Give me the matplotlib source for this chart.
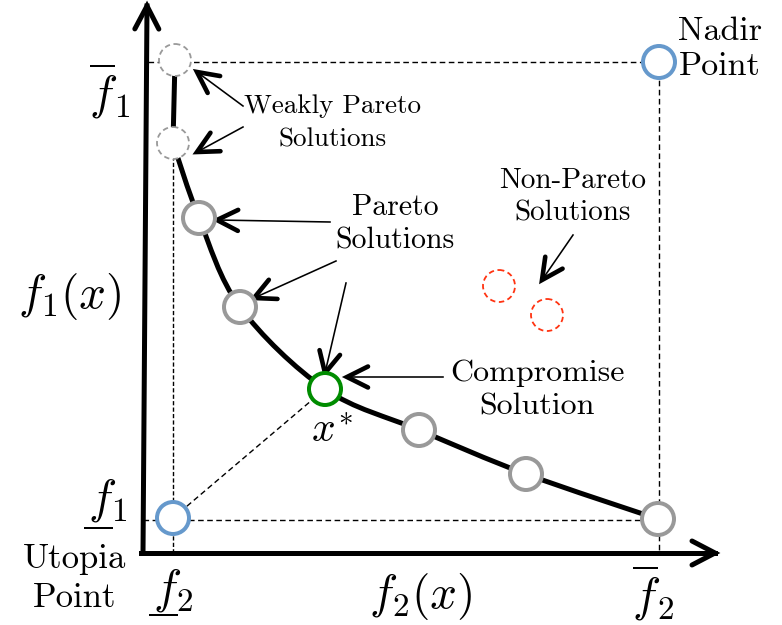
import numpy as np
import matplotlib
matplotlib.use("Agg")
import matplotlib.pyplot as plt
from matplotlib.patches import Circle, PathPatch
from matplotlib.path import Path
from matplotlib.lines import Line2D

plt.rcParams["mathtext.fontset"] = "cm"
TXT = "cmr10"

# Objective-space positions (canvas units, f1 grows upward on screen = smaller y)
weak_f2 = [175, 173]
weak_f1 = [60, 143]
pareto_f2 = [199, 240, 419, 526, 658]
pareto_f1 = [218, 307, 430, 474, 519]
compromise = (325, 389)
utopia = (173, 518)
nadir = (659, 62)
non_pareto_f2 = [499, 547]
non_pareto_f1 = [286, 315]

W, H = 782, 625
fig = plt.figure(figsize=(W / 100, H / 100), dpi=100)
ax = fig.add_axes([0, 0, 1, 1])
ax.set_xlim(0, W)
ax.set_ylim(H, 0)
ax.set_aspect("equal")
ax.axis("off")

PX = 0.72  # points per pixel


def chevron(tip, tail, length, half, lw, z=6):
    tip = np.asarray(tip, float)
    tail = np.asarray(tail, float)
    d = tip - tail
    d /= np.hypot(*d)
    n = np.array([-d[1], d[0]])
    a1 = tip - length * d + half * n
    a2 = tip - length * d - half * n
    ax.add_line(Line2D([a1[0], tip[0], a2[0]], [a1[1], tip[1], a2[1]],
                       color="black", lw=lw, solid_capstyle="round",
                       solid_joinstyle="miter", zorder=z))


def arrow(tail, tip):
    ax.add_line(Line2D([tail[0], tip[0]], [tail[1], tip[1]], color="black",
                       lw=1.6 * PX, zorder=5))
    chevron(tip, tail, 21, 10.5, 4.6 * PX)


# axes of the objective space
origin = (143, 553)
ytop = (147, 6)
xend = (715, 553)
ax.add_line(Line2D([origin[0], ytop[0]], [origin[1], ytop[1]], color="black",
                   lw=5 * PX, zorder=4))
ax.add_line(Line2D([origin[0] - 2, xend[0]], [origin[1], xend[1]], color="black",
                   lw=5 * PX, zorder=4))
chevron(ytop, origin, 23, 12, 5 * PX)
chevron(xend, origin, 23, 12, 5 * PX)

# bounding dashed lines
dash = dict(color="black", lw=1.4 * PX, zorder=2)
ax.plot([148, nadir[0]], [nadir[1], nadir[1]], ls=(0, (4, 2.5)), **dash)
ax.plot([nadir[0], nadir[0]], [nadir[1], origin[1]], ls=(0, (4, 2.5)), **dash)
ax.plot([origin[0], pareto_f2[-1]], [utopia[1] + 2, utopia[1] + 2], ls=(0, (4, 2.5)), **dash)
ax.plot([utopia[0], utopia[0]], [weak_f1[1], origin[1]], ls=(0, (3, 1.6)), **dash)
ax.plot([utopia[0], compromise[0]], [utopia[1], compromise[1]], ls=(0, (4, 2.5)), **dash)

# Pareto front: vertical weak part then a smooth curve through the solutions
ax.plot(weak_f2, weak_f1, color="black", lw=5 * PX, zorder=3)
fx = [weak_f2[1]] + pareto_f2[:2] + [compromise[0]] + pareto_f2[2:]
fy = [weak_f1[1]] + pareto_f1[:2] + [compromise[1]] + pareto_f1[2:]
pts = np.column_stack([fx, fy]).astype(float)
verts = [pts[0]]
codes = [Path.MOVETO]
for i in range(len(pts) - 1):
    p0 = pts[i - 1] if i > 0 else pts[i]
    p1, p2 = pts[i], pts[i + 1]
    p3 = pts[i + 2] if i + 2 < len(pts) else pts[i + 1]
    verts += [p1 + (p2 - p0) / 6, p2 - (p3 - p1) / 6, p2]
    codes += [Path.CURVE4] * 3
ax.add_patch(PathPatch(Path(verts, codes), fill=False, ec="black",
                       lw=5 * PX, zorder=3, capstyle="round"))

R = 16
GRAY = "#999999"
for x, y in zip(weak_f2, weak_f1):
    ax.add_patch(Circle((x, y), R, fc="white", ec=GRAY, lw=1.8 * PX,
                        ls=(0, (3, 2)), zorder=7))
for x, y in zip(pareto_f2, pareto_f1):
    ax.add_patch(Circle((x, y), R, fc="white", ec=GRAY, lw=4 * PX, zorder=7))
for x, y in zip(non_pareto_f2, non_pareto_f1):
    ax.add_patch(Circle((x, y), R, fc="white", ec="#FF3311", lw=1.8 * PX,
                        ls=(0, (3, 2)), zorder=7))
ax.add_patch(Circle(compromise, R, fc="white", ec="#008C00", lw=4 * PX, zorder=7))
for p in (utopia, nadir):
    ax.add_patch(Circle(p, R, fc="white", ec="#6699CC", lw=4 * PX, zorder=7))

# annotation arrows
arrow((243, 106), (197, 72))
arrow((243, 127), (197, 152))
arrow((330, 222), (217, 220))
arrow((336, 261), (254, 298))
arrow((346, 283), (325, 373))
arrow((443, 377), (347, 377))
arrow((573, 235), (542, 280))

# labels
ax.text(333, 123, "Weakly Pareto\nSolutions", family=TXT, fontsize=19.5,
        ha="center", va="center", linespacing=1.5, zorder=8)
ax.text(395, 224, "Pareto\nSolutions", family=TXT, fontsize=21.5,
        ha="center", va="center", linespacing=1.3, zorder=8)
ax.text(573, 197, "Non-Pareto\nSolutions", family=TXT, fontsize=21,
        ha="center", va="center", linespacing=1.3, zorder=8)
ax.text(537, 390, "Compromise\nSolution", family=TXT, fontsize=23,
        ha="center", va="center", linespacing=1.3, zorder=8)
ax.text(720, 49, "Nadir\nPoint", family=TXT, fontsize=24.5,
        ha="center", va="center", linespacing=1.25, zorder=8)
ax.text(75, 579, "Utopia\nPoint", family=TXT, fontsize=25,
        ha="center", va="center", linespacing=1.3, zorder=8)

ax.text(70, 297, r"$f_1(x)$", fontsize=34, ha="center", va="center")
ax.text(421, 597, r"$f_2(x)$", fontsize=34, ha="center", va="center")
ax.text(110, 92, r"$\overline{f}_1$", fontsize=34, ha="center", va="center")
ax.text(653, 594, r"$\overline{f}_2$", fontsize=34, ha="center", va="center")
ax.text(108, 500, r"$f_1$", fontsize=34, ha="center", va="center")
ax.text(173, 590, r"$f_2$", fontsize=34, ha="center", va="center")
ax.plot([85, 112], [528, 528], color="black", lw=2 * PX)
ax.plot([150, 177], [615, 615], color="black", lw=2 * PX)
ax.text(332, 430, r"$x^{\!*}$", fontsize=30, ha="center", va="center")

fig.savefig("out.png", dpi=100)
